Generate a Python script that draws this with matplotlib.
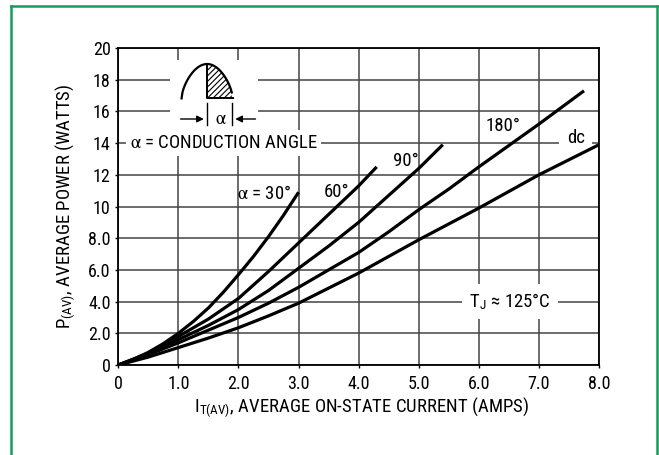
import numpy as np
import matplotlib.pyplot as plt
from matplotlib.lines import Line2D
from matplotlib.patches import Rectangle
from matplotlib import font_manager

names = {f.name for f in font_manager.fontManager.ttflist}
narrow = [n for n in ['Roboto Condensed', 'Liberation Sans Narrow', 'Open Sans Condensed', 'Roboto'] if n in names]
plt.rcParams['font.family'] = narrow[:1] + ['DejaVu Sans']
plt.rcParams['mathtext.fontset'] = 'stix'
plt.rcParams['hatch.linewidth'] = 0.8

# curves: average current (A) vs average power (W)
x30 = [0, 0.25, 0.5, 0.75, 1.0, 1.25, 1.5, 1.75, 2.0, 2.25, 2.5, 2.75, 3.0]
p30 = [0, 0.35, 0.8, 1.35, 2.0, 2.75, 3.6, 4.6, 5.7, 6.85, 8.1, 9.45, 10.9]
x60 = [0, 0.5, 1.0, 1.5, 2.0, 2.5, 3.0, 3.5, 3.75, 4.0, 4.15, 4.3]
p60 = [0, 0.75, 1.8, 2.9, 4.2, 5.9, 7.7, 9.5, 10.4, 11.3, 11.9, 12.5]
x90 = [0, 0.5, 1.0, 1.5, 2.0, 2.5, 3.0, 3.5, 4.0, 4.5, 5.0, 5.4]
p90 = [0, 0.7, 1.6, 2.5, 3.5, 4.7, 6.1, 7.5, 9.0, 10.7, 12.4, 13.9]
x180 = [0, 0.5, 1.0, 1.5, 2.0, 2.5, 3.0, 3.5, 4.0, 4.5, 5.0, 5.5, 6.0, 6.5, 7.0, 7.5, 7.75]
p180 = [0, 0.65, 1.4, 2.2, 3.0, 3.9, 4.9, 6.0, 7.1, 8.4, 9.8, 11.1, 12.5, 13.85, 15.2, 16.6, 17.3]
xdc = [0, 0.5, 1.0, 1.5, 2.0, 2.5, 3.0, 4.0, 5.0, 6.0, 7.0, 8.0]
pdc = [0, 0.5, 1.1, 1.7, 2.35, 3.1, 3.9, 5.8, 7.9, 9.9, 12.0, 13.9]

xticks = [0, 1, 2, 3, 4, 5, 6, 7, 8]
xtick_labels = ['0', '1.0', '2.0', '3.0', '4.0', '5.0', '6.0', '7.0', '8.0']
yticks = [0, 2, 4, 6, 8, 10, 12, 14, 16, 18, 20]
ytick_labels = ['0', '2.0', '4.0', '6.0', '8.0', '10', '12', '14', '16', '18', '20']

fig = plt.figure(figsize=(6.59, 4.55), dpi=100)
ax = fig.add_axes([0.1795, 0.1978, 0.7295, 0.6967])

# green frame, open at the bottom
green = '#169c5c'
fx0, fx1, fy1 = 10.5 / 659, 657 / 659, 1 - 6 / 455
for xs, ys in [([fx0, fx0], [-0.1, fy1]), ([fx0, fx1], [fy1, fy1]), ([fx1, fx1], [fy1, -0.1])]:
    fig.add_artist(Line2D(xs, ys, color=green, lw=1.8, transform=fig.transFigure))

for xs, ps in [(x30, p30), (x60, p60), (x90, p90), (x180, p180), (xdc, pdc)]:
    ax.plot(xs, ps, color='black', lw=2.3, solid_capstyle='butt', zorder=3)

ax.set_xlim(0, 8)
ax.set_ylim(0, 20)
ax.set_xticks(xticks)
ax.set_xticklabels(xtick_labels)
ax.set_yticks(yticks)
ax.set_yticklabels(ytick_labels)
ax.tick_params(labelsize=13, length=2.5, width=1, direction='out')
ax.tick_params(axis='x', pad=4.5)
ax.tick_params(axis='y', pad=3)
ax.grid(True, color='#444444', lw=1.1)
for s in ax.spines.values():
    s.set_linewidth(1.3)

fs = 13.5
ax.set_xlabel(r'I$_{\mathregular{T(AV)}}$, AVERAGE ON-STATE CURRENT (AMPS)', fontsize=fs)
ax.xaxis.set_label_coords(0.505, -0.135)
ax.xaxis.label.set_verticalalignment('center')
ax.set_ylabel(r'P$_{\mathregular{(AV)}}$, AVERAGE POWER (WATTS)', fontsize=fs)
ax.yaxis.set_label_coords(-0.108, 0.5)
ax.yaxis.label.set_verticalalignment('center')

ax.text(2.87, 10.8, r'$\mathrm{\alpha}$ = 30°', fontsize=fs, ha='right', va='center', zorder=4)
ax.text(3.63, 10.9, '60°', fontsize=fs, ha='center', va='center', zorder=4)
ax.text(4.78, 12.9, '90°', fontsize=fs, ha='center', va='center', zorder=4)
ax.text(6.41, 15.05, '180°', fontsize=fs, ha='center', va='center', zorder=4)
ax.text(7.61, 14.3, 'dc', fontsize=fs, ha='center', va='center', zorder=2.5,
        bbox=dict(boxstyle='square,pad=0.4', fc='white', ec='none'))
ax.text(6.52, 4.0, r'T$_{\mathregular{J}}$ ≈ 125°C', fontsize=fs, ha='center', va='center', zorder=2.5,
        bbox=dict(boxstyle='square,pad=0.4', fc='white', ec='none'))
ax.text(1.75, 14.0, r'$\mathrm{\alpha}$ = CONDUCTION ANGLE', fontsize=fs, ha='center', va='center',
        zorder=2.5, bbox=dict(boxstyle='square,pad=0.2', fc='white', ec='none'))

# conduction angle sketch
ax.add_patch(Rectangle((0.86, 14.75), 1.47, 4.5, fc='white', ec='none', zorder=2))
base, peak = 16.82, 18.99
ax_arc = np.linspace(1.053, 1.903, 60)
arc = base + (peak - base) * np.sin(np.pi * (ax_arc - 1.053) / 0.85) ** 0.6
ax.plot(ax_arc, arc, color='black', lw=1.6, zorder=3)
m = ax_arc >= 1.47
ax.fill_between(ax_arc[m], base, arc[m], facecolor='white', edgecolor='black', hatch='//////',
                lw=0, zorder=2.5)
ax.plot([1.47, 1.47, 1.903], [peak, base, base], color='black', lw=1.4, zorder=3)
ax.plot([1.47, 1.47], [15.14, 16.53], color='black', lw=1.0, zorder=3)
ax.plot([1.90, 1.90], [15.14, 16.53], color='black', lw=1.0, zorder=3)
ax.annotate('', xy=(1.47, 15.52), xytext=(0.99, 15.52),
            arrowprops=dict(arrowstyle='-|>', color='black', lw=1.0, mutation_scale=10), zorder=3)
ax.annotate('', xy=(1.90, 15.52), xytext=(2.33, 15.52),
            arrowprops=dict(arrowstyle='-|>', color='black', lw=1.0, mutation_scale=10), zorder=3)
ax.text(1.70, 15.52, r'$\mathrm{\alpha}$', fontsize=fs, ha='center', va='center', zorder=4)

fig.savefig('out.png', dpi=100)
